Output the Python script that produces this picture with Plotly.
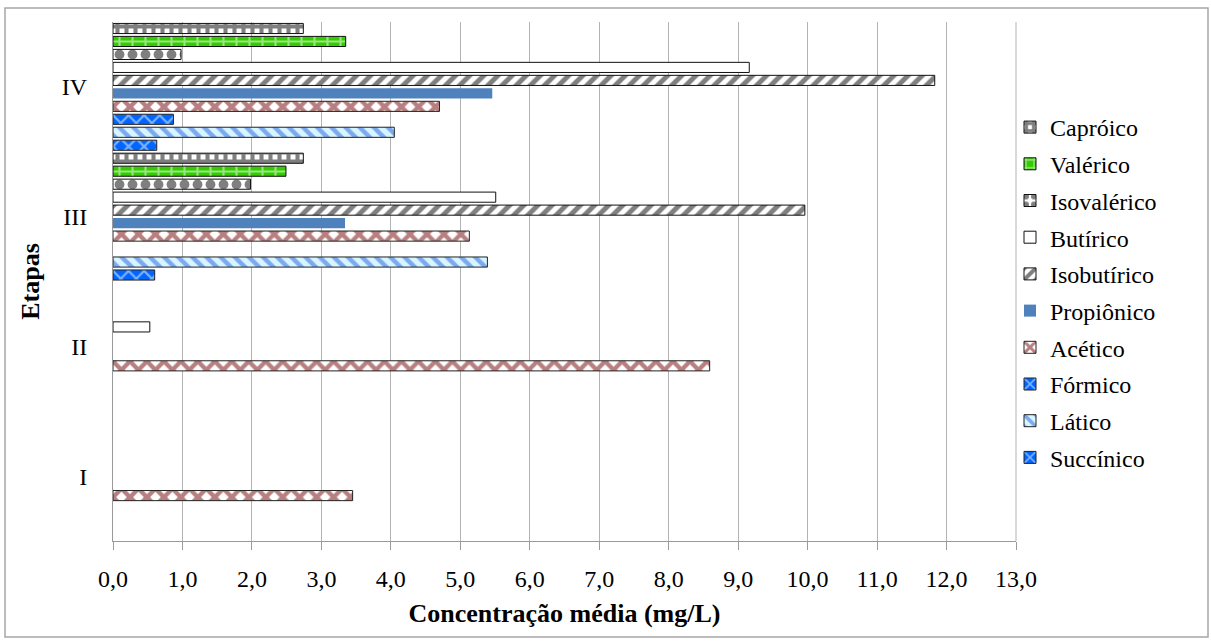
import plotly.graph_objects as go

# Stages (y categories)
etapas = ["I", "II", "III", "IV"]

# Mean concentration (mg/L) per acid and stage; None = not detected
succinico = [None, None, 0.60, 0.63]
latico = [None, None, 5.39, 4.05]
formico = [None, None, None, 0.87]
acetico = [3.45, 8.59, 5.13, 4.70]
propionico = [None, None, 3.34, 5.46]
isobutirico = [None, None, 9.96, 11.83]
butirico = [None, 0.53, 5.51, 9.16]
isovalerico = [None, None, 1.98, 0.98]
valerico = [None, None, 2.49, 3.35]
caproico = [None, None, 2.74, 2.74]

x_ticks = [i for i in range(0, 14)]

FONT = "Liberation Serif"

# (name, values, fill pattern settings) — first trace sits at the bottom of each group
series = [
    ("Succínico", succinico, dict(shape="x", bgcolor="#0066FF", fgcolor="white", size=11, solidity=0.35), "#222"),
    ("Lático", latico, dict(shape="\\", bgcolor="#D8F4FF", fgcolor="#1F5FE0", size=10, solidity=0.45), "#222"),
    ("Fórmico", formico, dict(shape="x", bgcolor="#0066FF", fgcolor="white", size=11, solidity=0.35), "#222"),
    ("Acético", acetico, dict(shape="x", bgcolor="white", fgcolor="#700000", size=12, solidity=0.6), "#222"),
    ("Propiônico", propionico, None, None),
    ("Isobutírico", isobutirico, dict(shape="/", bgcolor="white", fgcolor="black", size=10, solidity=0.5), "#111"),
    ("Butírico", butirico, None, "#111"),
    ("Isovalérico", isovalerico, dict(shape=".", bgcolor="white", fgcolor="black", size=13, solidity=0.45), "#111"),
    ("Valérico", valerico, dict(shape="+", bgcolor="#33CC00", fgcolor="white", size=13, solidity=0.3), "#111"),
    ("Capróico", caproico, dict(shape="+", bgcolor="white", fgcolor="black", size=9, solidity=0.7), "#111"),
]

fig = go.Figure()
n = len(series)
for i, (name, vals, pat, line_color) in enumerate(series):
    if name == "Propiônico":
        marker = dict(color="#4F81BD", line=dict(width=0))
    elif pat is None:
        marker = dict(color="white", line=dict(color=line_color, width=1))
    else:
        marker = dict(color=pat["bgcolor"], pattern=pat, line=dict(color=line_color, width=1))
    fig.add_trace(go.Bar(
        y=etapas, x=vals, name=name, orientation="h",
        marker=marker, legendgroup=name, legendrank=n - i,
    ))

# plot-area pixel bounds used to place the outer frame in paper units
L, R, T, B = 113, 1016, 22, 541
W, H = 1211, 644
pw, ph = R - L, B - T

fig.update_layout(
    width=W, height=H,
    margin=dict(l=L, r=W - R, t=T, b=H - B, pad=0, autoexpand=False),
    paper_bgcolor="white", plot_bgcolor="white",
    barmode="group", bargap=0.0, bargroupgap=0.22,
    separators=",.",
    font=dict(family=FONT, size=22, color="black"),
    showlegend=True,
    legend=dict(
        traceorder="grouped", tracegroupgap=2.5,
        x=(1010 - L) / pw, xanchor="left",
        y=(B - 105) / ph, yanchor="top",
        font=dict(family=FONT, size=24, color="black"),
        bgcolor="rgba(0,0,0,0)", itemwidth=30,
    ),
    xaxis=dict(
        range=[0, 13], tickvals=x_ticks, tickformat=".1f",
        showgrid=True, gridcolor="#B3B3B3", gridwidth=1,
        showline=True, linecolor="#9A9A9A", linewidth=1,
        ticks="outside", ticklen=8, tickcolor="#9A9A9A",
        tickfont=dict(family=FONT, size=24),
        ticklabelstandoff=8,
        zeroline=False,
        title=dict(text="<b>Concentração média (mg/L)</b>", font=dict(family=FONT, size=26), standoff=13),
    ),
    yaxis=dict(
        showgrid=False, showline=True, linecolor="#9A9A9A", linewidth=1,
        ticks="", tickfont=dict(family=FONT, size=24),
        ticklabelstandoff=20,
        title=dict(text="<b>Etapas</b>", font=dict(family=FONT, size=26), standoff=14),
    ),
    shapes=[
        # right boundary of the plotting area
        dict(type="line", xref="paper", yref="paper", x0=1, x1=1, y0=0, y1=1,
             line=dict(color="#B3B3B3", width=1)),
        # outer chart frame
        dict(type="rect", xref="paper", yref="paper",
             x0=(5 - L) / pw, x1=(1208 - L) / pw,
             y0=(B - 637) / ph, y1=(B - 8) / ph,
             line=dict(color="#A6A6A6", width=1.5), fillcolor="rgba(0,0,0,0)", layer="below"),
    ],
)

fig.write_html("out.html")
